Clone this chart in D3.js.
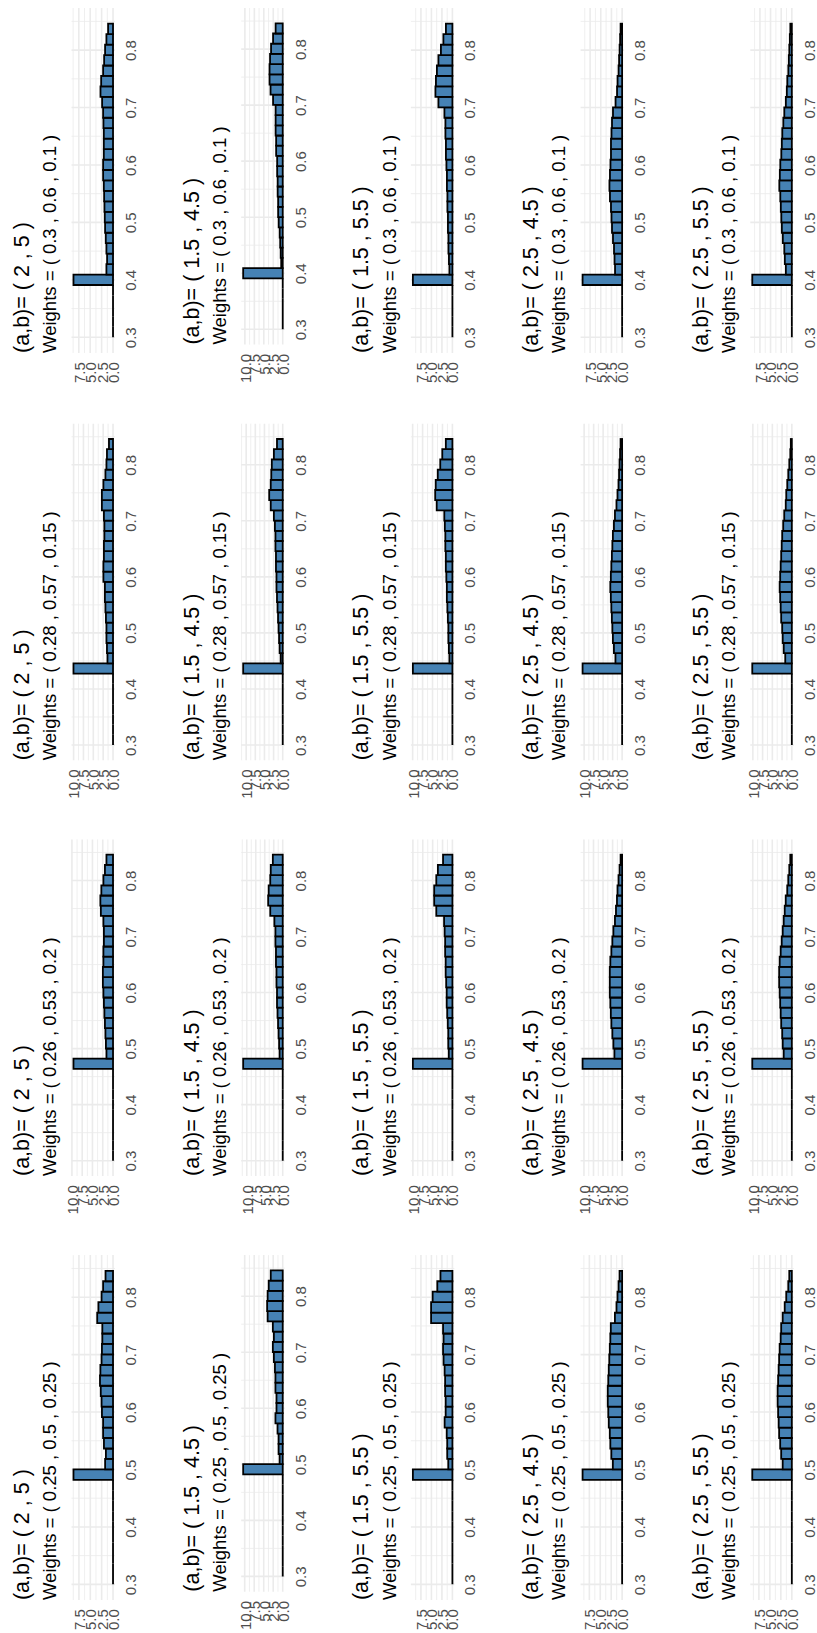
<!DOCTYPE html>
<html><head><meta charset="utf-8">
<script src="https://cdn.jsdelivr.net/npm/d3@7"></script>
<style>body{margin:0;background:#fff}svg{display:block}</style>
</head><body><svg id="c" width="817" height="1633"></svg>
<script>
// ---------- data ----------
const abLabels = ["( 2 , 5 )", "( 1.5 , 4.5 )", "( 1.5 , 5.5 )", "( 2.5 , 4.5 )", "( 2.5 , 5.5 )"];
const weightLabels = ["( 0.3 , 0.6 , 0.1 )", "( 0.28 , 0.57 , 0.15 )", "( 0.26 , 0.53 , 0.2 )", "( 0.25 , 0.5 , 0.25 )"];
const binStart = 0.30, binWidth = 0.0182;
const xTicks = [0.3, 0.4, 0.5, 0.6, 0.7, 0.8];
const xMinor = [0.35, 0.45, 0.55, 0.65, 0.75, 0.85];
const yTickValues = [0, 2.5, 5, 7.5, 10];
const yMinorValues = [1.25, 3.75, 6.25, 8.75, 11.25];

// densities per bin, weights (0.3, 0.6, 0.1)
const densW1 = [
  [0,0,0,0,0, 8.67, 1.45,1.30,1.45,1.59,1.74,1.81,1.88,1.95,2.02,2.17,2.17,2.02,2.02,2.02,2.10,2.17,2.39,2.75,2.60,2.17,1.95,1.74,1.45,1.08],
  [0,0,0,0,0, 10.45, 0.40,0.54,0.67,0.80,1.07,1.21,1.21,1.34,1.34,1.47,1.47,1.74,1.74,1.88,1.88,1.88,2.55,3.22,3.48,3.48,3.35,3.08,2.55,1.88],
  [0,0,0,0,0, 9.42, 0.72,0.83,0.95,0.95,1.07,1.07,1.19,1.19,1.31,1.31,1.43,1.55,1.55,1.67,1.67,1.91,3.34,4.05,3.93,3.70,3.34,2.74,2.15,1.55],
  [0,0,0,0,0, 9.26, 1.66,1.78,1.90,2.14,2.37,2.49,2.61,2.85,2.97,2.85,2.73,2.61,2.61,2.49,2.37,2.14,1.54,1.19,1.07,0.83,0.71,0.59,0.47,0.36],
  [0,0,0,0,0, 9.3, 1.41,1.65,1.77,2.12,2.35,2.47,2.59,2.71,2.94,2.82,2.71,2.47,2.35,2.24,2.00,1.77,1.41,1.18,1.06,0.82,0.71,0.59,0.47,0.35]
];
// weights (0.28, 0.57, 0.15)
const densW2 = [
  [0,0,0,0,0,0,0, 10.03, 1.41,1.54,1.67,1.67,1.80,1.93,2.06,2.06,2.44,2.44,2.31,2.31,2.19,2.19,2.31,2.83,2.83,2.44,1.93,1.67,1.54,1.03],
  [0,0,0,0,0,0,0, 10.82, 0.57,0.85,1.00,1.14,1.28,1.42,1.57,1.71,1.71,1.85,1.85,1.99,1.99,2.14,2.42,3.28,3.70,3.28,3.13,2.99,2.42,1.57],
  [0,0,0,0,0,0,0, 9.94, 0.76,0.89,1.02,1.02,1.15,1.27,1.40,1.40,1.53,1.66,1.66,1.78,1.78,1.91,2.04,3.95,4.33,4.20,3.69,3.06,2.55,1.66],
  [0,0,0,0,0,0,0, 10.41, 1.76,2.16,2.43,2.57,2.70,2.84,2.97,3.11,2.97,2.84,2.70,2.57,2.43,2.16,1.89,1.49,1.22,0.95,0.81,0.68,0.54,0.41],
  [0,0,0,0,0,0,0, 10.15, 1.69,2.08,2.34,2.47,2.73,2.86,2.99,3.12,2.99,2.86,2.73,2.60,2.47,2.21,1.95,1.56,1.43,1.17,0.91,0.65,0.39,0.26]
];
// weights (0.26, 0.53, 0.2)
const densW3 = [
  [0,0,0,0,0,0,0,0,0, 9.62, 1.60,1.73,1.85,1.97,2.10,2.22,2.34,2.47,2.47,2.34,2.34,2.22,2.22,2.34,2.96,3.08,2.84,2.34,1.97,1.60],
  [0,0,0,0,0,0,0,0,0, 11.0, 0.87,1.01,1.16,1.30,1.45,1.59,1.59,1.74,1.74,1.88,1.88,2.03,2.03,2.32,3.47,4.05,3.91,3.47,3.33,2.75],
  [0,0,0,0,0,0,0,0,0, 10.0, 0.92,1.05,1.05,1.18,1.32,1.45,1.45,1.58,1.71,1.71,1.84,1.84,1.97,2.11,4.08,4.61,4.61,4.08,3.68,2.37],
  [0,0,0,0,0,0,0,0,0, 10.36, 2.02,2.29,2.56,2.82,2.96,3.09,3.23,3.23,3.23,3.09,2.82,2.56,2.29,1.88,1.61,1.35,1.21,0.94,0.67,0.40],
  [0,0,0,0,0,0,0,0,0, 10.12, 2.08,2.33,2.46,2.72,2.85,2.98,3.11,3.24,3.24,3.11,2.85,2.59,2.33,2.08,1.82,1.56,1.17,0.91,0.65,0.39]
];
// weights (0.25, 0.5, 0.25)
const densW4 = [
  [0,0,0,0,0,0,0,0,0,0, 8.7, 1.74,1.57,2.00,2.18,2.18,2.44,2.52,2.70,2.87,2.78,2.52,2.44,2.35,2.35,3.48,3.22,2.52,2.18,1.65],
  [0,0,0,0,0,0,0,0,0,0, 10.4, 0.82,1.09,1.09,1.37,1.92,1.64,1.64,1.92,1.92,2.05,2.33,2.60,2.33,2.60,3.97,4.10,3.97,3.69,3.15],
  [0,0,0,0,0,0,0,0,0,0, 9.42, 0.99,1.24,1.24,1.36,1.86,1.61,1.61,1.74,1.74,1.86,2.11,2.23,2.11,2.23,5.08,5.08,4.71,3.60,2.85],
  [0,0,0,0,0,0,0,0,0,0, 9.05, 2.12,2.47,2.70,2.82,3.06,3.17,3.29,3.29,3.17,3.06,2.94,2.82,2.70,2.59,1.65,1.29,1.06,0.82,0.59],
  [0,0,0,0,0,0,0,0,0,0, 9.0, 2.08,2.42,2.65,2.89,3.00,3.12,3.23,3.23,3.12,3.00,2.89,2.77,2.54,2.42,2.08,1.62,1.27,0.81,0.58]
];

// ---------- layout ----------
const rowsData = [densW1, densW2, densW3, densW4];
const ROW_PITCH = 415.7, COL_PITCH = 169.7;
const FONT = "'Liberation Sans', Arial, Helvetica, sans-serif";
const AXIS_FS = 15, TITLE_FS = 21.5, SUB_FS = 18.5;
const svg = d3.select("#c");
svg.append("rect").attr("width", 817).attr("height", 1633).attr("fill", "#fff");

const meas = svg.append("text").attr("font-family", FONT).attr("font-size", AXIS_FS).attr("opacity", 0);
const textW = s => { meas.text(s); return meas.node().getComputedTextLength(); };
const fmt = d3.format(".1f");

rowsData.forEach((row, r) => row.forEach((dens, c) => {
  const dx = c * COL_PITCH, dy = r * ROW_PITCH;
  const m = d3.max(dens);
  const yLim = [-0.05 * m, 1.05 * m];
  const yT = yTickValues.filter(v => v >= yLim[0] && v <= yLim[1]);
  const yM = yMinorValues.filter(v => v >= yLim[0] && v <= yLim[1]);
  const lw = d3.max(yT, v => textW(fmt(v)));
  const labelEdge = 383 + dy;
  const gap = 9.2;
  const pBottom = labelEdge - lw - gap;
  const pTop = 8 + dy;
  const pLeftX = 71.5 + dx, pRightX = 115 + dx;

  const xLo = binStart, xHi = binStart + dens.length * binWidth, R = xHi - xLo;
  const x = d3.scaleLinear().domain([xLo - 0.05 * R, xHi + 0.05 * R]).range([pBottom, pTop]);
  const y = d3.scaleLinear().domain(yLim).range([pRightX, pLeftX]);

  const g = svg.append("g");
  // grid: minor
  g.selectAll(null).data(xMinor.filter(v => v >= x.domain()[0] && v <= x.domain()[1])).join("line")
    .attr("x1", pLeftX).attr("x2", pRightX).attr("y1", d => x(d)).attr("y2", d => x(d))
    .attr("stroke", "#EBEBEB").attr("stroke-width", 0.8);
  g.selectAll(null).data(yM).join("line")
    .attr("y1", pTop).attr("y2", pBottom).attr("x1", d => y(d)).attr("x2", d => y(d))
    .attr("stroke", "#EBEBEB").attr("stroke-width", 0.8);
  // grid: major
  g.selectAll(null).data(xTicks).join("line")
    .attr("x1", pLeftX).attr("x2", pRightX).attr("y1", d => x(d)).attr("y2", d => x(d))
    .attr("stroke", "#EBEBEB").attr("stroke-width", 1.6);
  g.selectAll(null).data(yT).join("line")
    .attr("y1", pTop).attr("y2", pBottom).attr("x1", d => y(d)).attr("x2", d => y(d))
    .attr("stroke", "#EBEBEB").attr("stroke-width", 1.6);

  // bars
  const bins = dens.map((d, i) => ({ x0: binStart + i * binWidth, x1: binStart + (i + 1) * binWidth, d }));
  g.selectAll(null).data(bins).join("path")
    .attr("d", b => `M${y(0)},${x(b.x0)}H${y(b.d)}V${x(b.x1)}H${y(0)}Z`)
    .attr("fill", "#4682B4").attr("stroke", "#000").attr("stroke-width", 1.8)
    .attr("stroke-linejoin", "miter");

  // x axis (values along vertical direction)
  const xa = g.append("g").attr("transform", `translate(${pRightX},0)`)
    .call(d3.axisRight(x).tickValues(xTicks).tickSize(0).tickPadding(0).tickFormat(d3.format(".1f")));
  xa.select(".domain").remove();
  xa.selectAll("text").attr("x", null).attr("dy", null)
    .attr("transform", "translate(21,0) rotate(-90)")
    .attr("text-anchor", "middle")
    .attr("font-family", FONT).attr("font-size", AXIS_FS).attr("fill", "#4D4D4D");

  // y axis (values along horizontal direction)
  const ya = g.append("g").attr("transform", `translate(0,${pBottom + gap})`)
    .call(d3.axisBottom(y).tickValues(yT).tickSize(0).tickPadding(0).tickFormat(fmt));
  ya.select(".domain").remove();
  ya.selectAll("text").attr("y", null).attr("dy", null)
    .attr("transform", "translate(5.4,0) rotate(-90)")
    .attr("text-anchor", "end")
    .attr("font-family", FONT).attr("font-size", AXIS_FS).attr("fill", "#4D4D4D");

  // titles
  g.append("text").attr("transform", `translate(${28.8 + dx},${pBottom}) rotate(-90)`)
    .attr("font-family", FONT).attr("font-size", TITLE_FS).attr("fill", "#000")
    .text("(a,b)= " + abLabels[c]);
  g.append("text").attr("transform", `translate(${56.2 + dx},${pBottom}) rotate(-90)`)
    .attr("font-family", FONT).attr("font-size", SUB_FS).attr("fill", "#000")
    .text("Weights = " + weightLabels[r]);
}));
meas.remove();
</script>
</body></html>
